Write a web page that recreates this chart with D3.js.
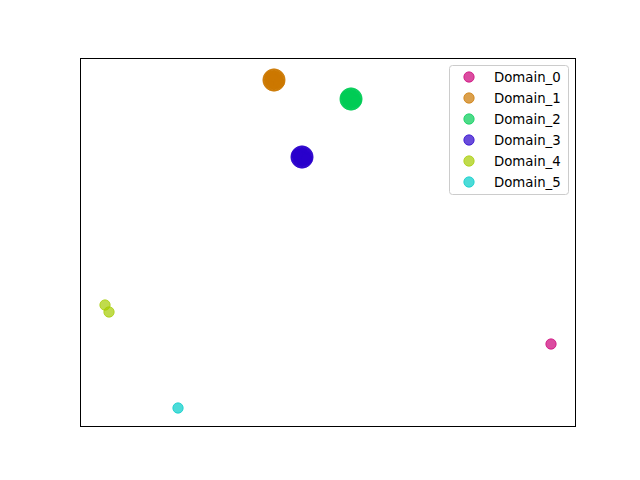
<!DOCTYPE html>
<html><head><meta charset="utf-8">
<script src="https://cdn.jsdelivr.net/npm/d3@7"></script>
<style>body{margin:0;background:#fff}svg{display:block}</style>
</head><body>
<script>
const domains = ["Domain_0","Domain_1","Domain_2","Domain_3","Domain_4","Domain_5"];
const colors = ["#cc0077","#cc7800","#00cc55","#2a00cc","#a5cc00","#00ccc8"];
const domain0 = [[94.96,22.49]];
const domain1 = [[40.31,94.04],[39.96,95.19],[39.11,95.67],[38.26,95.19],[37.91,94.04],[38.26,92.89],[39.11,92.41],[39.96,92.89],
  [40.23,94.66],[39.57,95.54],[38.65,95.54],[37.99,94.66],[37.99,93.42],[38.65,92.54],[39.57,92.54],[40.23,93.42],
  [39.71,94.04],[39.11,94.85],[38.51,94.04],[39.11,93.23],[39.11,94.04],[39.2,94.1],[39.0,93.9],[40.1,93.3],[38.4,94.9]];
const domain2 = [[55.84,88.89],[55.49,90.04],[54.64,90.52],[53.79,90.04],[53.44,88.89],[53.79,87.74],[54.64,87.26],[55.49,87.74],
  [55.76,89.51],[55.10,90.39],[54.18,90.39],[53.52,89.51],[53.52,88.27],[54.18,87.39],[55.10,87.39],[55.76,88.27],
  [55.24,88.89],[54.64,89.70],[54.04,88.89],[54.64,88.08],[54.64,88.89],[54.7,88.95],[54.55,88.8],[55.6,88.2],[53.7,89.6]];
const domain3 = [[45.96,73.17],[45.61,74.32],[44.76,74.80],[43.91,74.32],[43.56,73.17],[43.91,72.02],[44.76,71.54],[45.61,72.02],
  [45.88,73.79],[45.22,74.67],[44.30,74.67],[43.64,73.79],[43.64,72.55],[44.30,71.67],[45.22,71.67],[45.88,72.55],
  [45.36,73.17],[44.76,73.98],[44.16,73.17],[44.76,72.36],[44.76,73.17],[44.85,73.2],[44.7,73.1],[45.7,72.6],[43.8,73.8]];
const domain4 = [[5.04,33.06],[5.85,31.17]];
const domain5 = [[19.76,5.15]];
const series = [domain0,domain1,domain2,domain3,domain4,domain5];

const W=640,H=480, L=80,R=576,T=58,B=427;
const svg=d3.select("body").append("svg").attr("width",W).attr("height",H);
const x=d3.scaleLinear().domain([0,100]).range([L,R]);
const y=d3.scaleLinear().domain([0,100]).range([B,T]);

series.forEach((pts,i)=>{
  svg.append("g").selectAll("circle").data(pts).join("circle")
    .attr("cx",d=>x(d[0])).attr("cy",d=>y(d[1])).attr("r",5.2)
    .attr("fill",colors[i]).attr("fill-opacity",0.7)
    .attr("stroke",colors[i]).attr("stroke-opacity",0.7).attr("stroke-width",1);
});
svg.append("rect").attr("x",L+0.5).attr("y",T+0.5).attr("width",R-L-1).attr("height",B-T-1)
  .attr("fill","none").attr("stroke","#000").attr("stroke-width",1);

const lg=svg.append("g");
lg.append("rect").attr("x",449.5).attr("y",65.5).attr("width",119).attr("height",129).attr("rx",3)
  .attr("fill","#fff").attr("fill-opacity",0.8).attr("stroke","#cccccc");
domains.forEach((d,i)=>{
  const yy=77+i*21;
  lg.append("circle").attr("cx",469).attr("cy",yy).attr("r",5.2)
    .attr("fill",colors[i]).attr("fill-opacity",0.7)
    .attr("stroke",colors[i]).attr("stroke-opacity",0.7).attr("stroke-width",1);
  lg.append("text").attr("x",494).attr("y",yy).attr("dy","0.36em").text(d)
    .attr("font-family","DejaVu Sans").attr("font-size","13.3px").attr("fill","#000");
});
</script>
</body></html>
